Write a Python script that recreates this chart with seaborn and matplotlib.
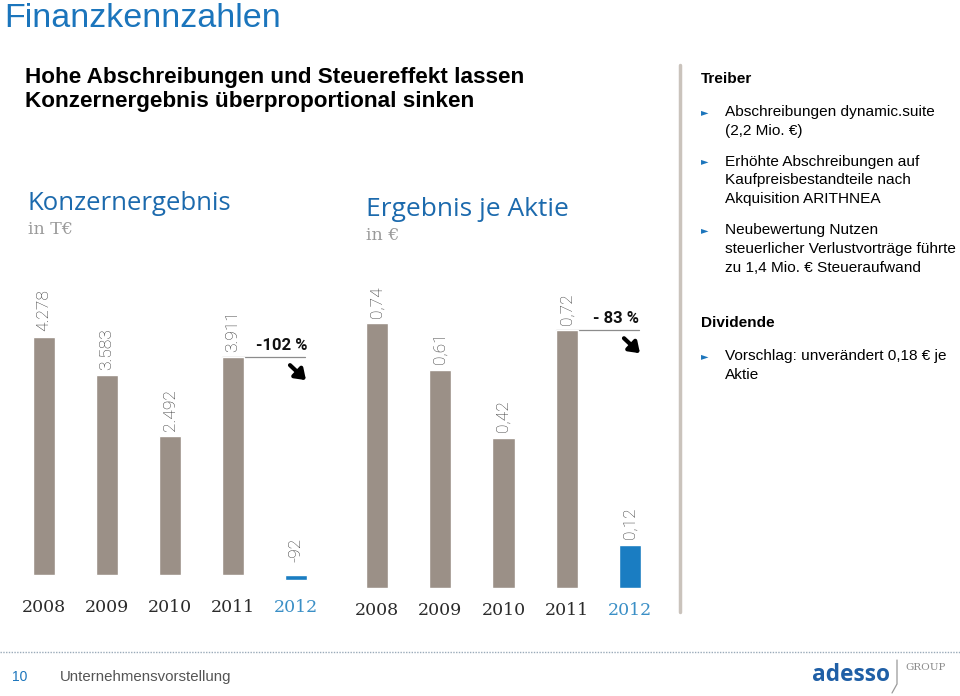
import matplotlib
matplotlib.use("Agg")
import matplotlib.pyplot as plt
from matplotlib.lines import Line2D
import seaborn as sns
import pandas as pd

# ---------------- data ----------------
years = ["2008", "2009", "2010", "2011", "2012"]
konzern_values = [4278, 3583, 2492, 3911, -92]        # in T€
eps_values = [0.74, 0.61, 0.42, 0.72, 0.12]           # in €
change_labels = ["-102 %", "- 83 %"]

chart_titles = ["Konzernergebnis", "Ergebnis je Aktie"]
chart_units = ["in T€", "in €"]

page_title = "Finanzkennzahlen"
headline = ["Hohe Abschreibungen und Steuereffekt lassen",
            "Konzernergebnis überproportional sinken"]
treiber_title = "Treiber"
treiber_items = [
    ["Abschreibungen dynamic.suite", "(2,2 Mio. €)"],
    ["Erhöhte Abschreibungen auf", "Kaufpreisbestandteile nach", "Akquisition ARITHNEA"],
    ["Neubewertung Nutzen", "steuerlicher Verlustvorträge führte", "zu 1,4 Mio. € Steueraufwand"],
]
dividende_title = "Dividende"
dividende_items = [["Vorschlag: unverändert 0,18 € je", "Aktie"]]
footer_page = "10"
footer_text = "Unternehmensvorstellung"

# ---------------- style ----------------
sns.set_theme(style="white")
plt.rcParams["font.family"] = ["Liberation Sans", "DejaVu Sans"]

GRAY_BAR = "#9b9087"
BLUE_BAR = "#1a7dc2"
TITLE_BLUE = "#1c6aad"
TEXT_BLUE = "#1b75bc"

W, H = 960, 696
fig = plt.figure(figsize=(W / 100, H / 100), dpi=100)
fig.patch.set_facecolor("white")


def fx(px):
    return px / W


def fy(py):
    return 1 - py / H


def ftext(px, py, s, **kw):
    kw.setdefault("va", "center")
    kw.setdefault("ha", "left")
    fig.text(fx(px), fy(py), s, **kw)


# ---------------- page texts ----------------
ftext(4, 27, page_title, fontsize=24.5, color=TEXT_BLUE, va="baseline")
ftext(25, 77, headline[0], fontsize=16.2, fontweight="bold", color="black")
ftext(25, 101, headline[1], fontsize=16.2, fontweight="bold", color="black")

# right column
ftext(701, 79, treiber_title, fontsize=11.1, fontweight="bold", color="black")


def bullets(items, y0):
    y = y0
    for item in items:
        ftext(701, y, "►", fontsize=7, color=TEXT_BLUE, family="DejaVu Sans")
        for line in item:
            ftext(725, y, line, fontsize=11.1, color="black")
            y += 18.8
        y += 12
    return y


bullets(treiber_items, 112)
ftext(701, 323, dividende_title, fontsize=11.1, fontweight="bold", color="black")
bullets(dividende_items, 356)

# separator line
fig.add_artist(Line2D([fx(680), fx(680)], [fy(65), fy(612)], color="#cac3bc", lw=2.5))

# footer
fig.add_artist(Line2D([0, 1], [fy(652), fy(652)], color="#9aaab9", lw=1.0,
                      linestyle=(0, (1, 1))))
ftext(12, 677, footer_page, fontsize=10, color=TEXT_BLUE)
ftext(60, 677, footer_text, fontsize=10.8, color="#555555")
ftext(812, 675, "adesso", fontsize=16.3, fontweight="bold", color="#1f5fa6",
      family=["Open Sans", "DejaVu Sans"])
fig.add_artist(Line2D([fx(897), fx(897), fx(892)], [fy(660), fy(684), fy(693)],
                      color="#9a9a9a", lw=0.9))
ftext(905, 668, "GROUP", fontsize=7.5, color="#8a8a8a", family="DejaVu Serif")

# ---------------- charts ----------------
panels = [
    dict(values=konzern_values, fmt=lambda v: f"{v:,}".replace(",", "."),
         left=12.5, right=327.5, base=575, scale=0.0557, bottom=585, top=180,
         title_xy=(27, 203), unit_xy=(28, 229), title_size=18.5,
         change=change_labels[0]),
    dict(values=eps_values, fmt=lambda v: f"{v:.2f}".replace(".", ","),
         left=345.4, right=661.6, base=588, scale=358.0, bottom=588, top=180,
         title_xy=(366, 210), unit_xy=(366, 236), title_size=19.0,
         change=change_labels[1]),
]

palette = {y: (BLUE_BAR if y == years[-1] else GRAY_BAR) for y in years}
n = len(years)

for i, p in enumerate(panels):
    ax = fig.add_axes([fx(p["left"]), fy(p["bottom"]),
                       (p["right"] - p["left"]) / W, (p["bottom"] - p["top"]) / H])
    ax.patch.set_alpha(0)
    df = pd.DataFrame({"year": years, "value": p["values"]})
    sns.barplot(data=df, x="year", y="value", hue="year", palette=palette,
                saturation=1, width=0.35, legend=False, ax=ax)
    ax.set_ylim((p["base"] - p["bottom"]) / p["scale"], (p["base"] - p["top"]) / p["scale"])
    ax.set_xlim(-0.5, n - 0.5)
    for s in ax.spines.values():
        s.set_visible(False)
    ax.set_yticks([])
    ax.set_xlabel("")
    ax.set_ylabel("")
    ax.tick_params(axis="x", length=0, pad=10)
    for lab in ax.get_xticklabels():
        lab.set_fontfamily("DejaVu Serif")
        lab.set_fontsize(12.5)
        lab.set_color("#3a8fc6" if lab.get_text() == years[-1] else "#2b2b2b")

    # value labels
    for j, v in enumerate(p["values"]):
        off = 4 if v >= 0 else 9
        ax.annotate(p["fmt"](v), (j, max(v, 0)), xytext=(0, off), textcoords="offset points",
                    rotation=90, ha="center", va="bottom", fontsize=12.5,
                    family=["Roboto", "DejaVu Sans"], fontweight="light", color="#333333")

    # reference line from the previous year's bar
    v_prev = p["values"][-2]
    ax.plot([n - 2 - 0.175, n - 1 + 0.14], [v_prev, v_prev],
            color="#8c8c8c", lw=0.9, zorder=0)
    # change label
    ax.annotate(p["change"], (n - 1 - 0.22, v_prev), xytext=(0, 3),
                textcoords="offset points", ha="center", va="bottom", fontsize=12,
                fontweight="bold", family=["Roboto", "DejaVu Sans"], color="#111111")
    # diagonal down arrow below the line
    x0, y0 = ax.transData.transform((n - 1, v_prev))
    inv = ax.transData.inverted()
    start = inv.transform((x0 - 6, y0 - 8))
    end = inv.transform((x0 + 10, y0 - 23))
    ax.annotate("", xy=end, xytext=start,
                arrowprops=dict(arrowstyle="-|>,head_length=0.5,head_width=0.35",
                                color="black", lw=3.0, shrinkA=0, shrinkB=0),
                annotation_clip=False)

    # titles
    ftext(*p["title_xy"], chart_titles[i], fontsize=p["title_size"], color=TITLE_BLUE,
          family=["Open Sans", "DejaVu Sans"])
    ftext(*p["unit_xy"], chart_units[i], fontsize=12.5, color="#9a9a9a",
          family=["DejaVu Serif"])

fig.savefig("out.png", dpi=100, facecolor="white")
